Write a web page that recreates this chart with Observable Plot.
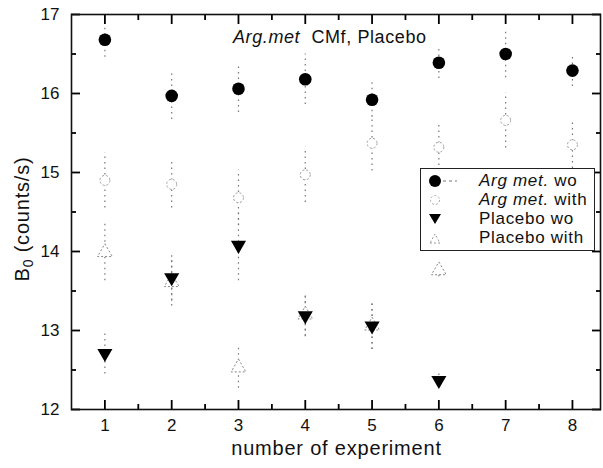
<!DOCTYPE html>
<html><head><meta charset="utf-8">
<script src="https://cdn.jsdelivr.net/npm/d3@7"></script>
<script src="https://cdn.jsdelivr.net/npm/@observablehq/plot@0.6"></script>
<style>
body{margin:0;background:#fff;}
#wrap{position:relative;width:603px;height:468px;font-family:"Liberation Sans",Arial,sans-serif;color:#111;}
#wrap svg{position:absolute;left:0;top:0;}
.ov{position:absolute;white-space:nowrap;}
#title{left:233px;top:27px;font-size:18px;letter-spacing:0.6px;}
#xlab{left:0;width:603px;top:437px;text-align:center;font-size:20px;letter-spacing:0.8px;padding-left:70px;box-sizing:border-box;}
#ylab{left:23px;top:219px;font-size:20px;letter-spacing:0.8px;transform:translate(-50%,-50%) rotate(-90deg);}
#ylab sub{font-size:14px;vertical-align:-4px;}
#legend{left:420px;top:168px;width:173px;height:81px;border:1.2px solid #222;background:#fff;font-size:17px;letter-spacing:0.7px;}
.row{position:absolute;left:0;height:19px;line-height:19px;}
.row svg{position:absolute;left:0;top:0;}
.row span{position:absolute;left:58px;top:0;}
</style></head><body><div id="wrap"></div>
<script>
const experiments = [1, 2, 3, 4, 5, 6, 7, 8];
const argWo      = [16.68, 15.97, 16.06, 16.18, 15.92, 16.39, 16.50, 16.29];
const argWoErr   = [0.22, 0.30, 0.30, 0.32, 0.22, 0.20, 0.30, 0.20];
const argWith    = [14.90, 14.85, 14.68, 14.97, 15.37, 15.32, 15.66, 15.35];
const argWithErr = [0.35, 0.30, 0.35, 0.35, 0.35, 0.30, 0.35, 0.30];
const placeboExp = [1, 2, 3, 4, 5, 6];
const placeboWo      = [12.71, 13.67, 14.08, 13.19, 13.06, 12.37];
const placeboWoErr   = [0.26, 0.30, 0.45, 0.27, 0.30, 0.08];
const placeboWith    = [13.99, 13.61, 12.53, 13.20, 13.06, 13.76];
const placeboWithErr = [0.36, 0.30, 0.26, 0.27, 0.30, 0.08];
const xTicks = [1, 2, 3, 4, 5, 6, 7, 8];
const xMinor = [1.5, 2.5, 3.5, 4.5, 5.5, 6.5, 7.5];
const yTicks = [12, 13, 14, 15, 16, 17];
const yMinor = [12.5, 13.5, 14.5, 15.5, 16.5];
const titleText = ["Arg.met", " CMf, Placebo"];
const legendLabels = [["Arg met.", " wo"], ["Arg met.", " with"], ["", "Placebo wo"], ["", "Placebo with"]];
const xLabel = "number of experiment";
const yLabel = ["B", "0", " (counts/s)"];

const W = 603, H = 468, mL = 71, mR = 3, mT = 14, mB = 59;

const rows = (xs, ys, es) => xs.map((x, i) => ({x, y: ys[i], lo: ys[i] - es[i], hi: ys[i] + es[i]}));
const aWo = rows(experiments, argWo, argWoErr);
const aWith = rows(experiments, argWith, argWithErr);
const pWo = rows(placeboExp, placeboWo, placeboWoErr);
const pWith = rows(placeboExp, placeboWith, placeboWithErr);

const errStyle = {stroke: "#777", strokeWidth: 1.2, strokeDasharray: "1.5,4"};
const noText = () => "";
const inTicks = (axis, anchor, ticks, len) =>
  axis({anchor, ticks, tickSize: -len, tickFormat: noText, label: null, stroke: "#000", strokeWidth: 1.8});

const chart = Plot.plot({
  width: W, height: H,
  marginLeft: mL, marginRight: mR, marginTop: mT, marginBottom: mB,
  style: {fontFamily: "'Liberation Sans', Arial, sans-serif", background: "transparent", color: "#111"},
  x: {domain: [0.5, 8.42]},
  y: {domain: [12, 17]},
  marks: [
    Plot.ruleX(aWo, {x: "x", y1: "lo", y2: "hi", ...errStyle}),
    Plot.ruleX(aWith, {x: "x", y1: "lo", y2: "hi", ...errStyle}),
    Plot.ruleX(pWo, {x: "x", y1: "lo", y2: "hi", ...errStyle}),
    Plot.ruleX(pWith, {x: "x", y1: "lo", y2: "hi", ...errStyle}),
    Plot.dot(aWith, {x: "x", y: "y", r: 5, fill: "white", stroke: "#999", strokeWidth: 1, strokeDasharray: "2,2"}),
    Plot.dot(pWith, {x: "x", y: "y", symbol: "triangle", r: 5.5, fill: "white", stroke: "#888", strokeWidth: 1, strokeDasharray: "2,2"}),
    Plot.dot(aWo, {x: "x", y: "y", r: 6.3, fill: "#000", stroke: "none"}),
    Plot.dot(pWo, {x: "x", y: "y", symbol: "triangle", rotate: 180, r: 5.6, fill: "#000", stroke: "none"}),
    inTicks(Plot.axisX, "bottom", xTicks, 9), inTicks(Plot.axisX, "bottom", xMinor, 5),
    inTicks(Plot.axisX, "top", xTicks, 9), inTicks(Plot.axisX, "top", xMinor, 5),
    inTicks(Plot.axisY, "left", yTicks, 9), inTicks(Plot.axisY, "left", yMinor, 5),
    inTicks(Plot.axisY, "right", yTicks, 9), inTicks(Plot.axisY, "right", yMinor, 5),
    Plot.frame({stroke: "#111", strokeWidth: 1.6}),
    Plot.axisX({ticks: xTicks, tickSize: 0, tickPadding: 9, fontSize: 17, tickFormat: "d", label: null}),
    Plot.axisY({ticks: yTicks, tickSize: 0, tickPadding: 12, fontSize: 17, tickFormat: "d", label: null})
  ]
});
const wrap = document.getElementById("wrap");
wrap.appendChild(chart);

function ov(id, html) { const d = document.createElement("div"); d.className = "ov"; d.id = id; d.innerHTML = html; wrap.appendChild(d); return d; }
ov("title", `<i>${titleText[0]}</i>${titleText[1].replace(" ", "&nbsp;&nbsp;")}`);
ov("xlab", xLabel);
ov("ylab", `${yLabel[0]}<sub>${yLabel[1]}</sub>${yLabel[2]}`);
const leg = ov("legend", "");
const symbols = [
  `<circle cx="14" cy="10" r="6" fill="#000"/><line x1="22" y1="10" x2="36" y2="10" stroke="#777" stroke-dasharray="3,3"/>`,
  `<circle cx="14" cy="10" r="4.5" fill="none" stroke="#aaa" stroke-dasharray="2,2"/>`,
  `<path d="M8,5 L20,5 L14,15 Z" fill="#000"/>`,
  `<path d="M9,15 L19,15 L14,6 Z" fill="none" stroke="#999" stroke-dasharray="2,2"/>`
];
legendLabels.forEach((l, i) => {
  const r = document.createElement("div");
  r.className = "row"; r.style.top = (2 + i * 19) + "px";
  r.innerHTML = `<svg width="40" height="19">${symbols[i]}</svg><span>${l[0] ? "<i>" + l[0] + "</i>" : ""}${l[1]}</span>`;
  leg.appendChild(r);
});
</script></body></html>
